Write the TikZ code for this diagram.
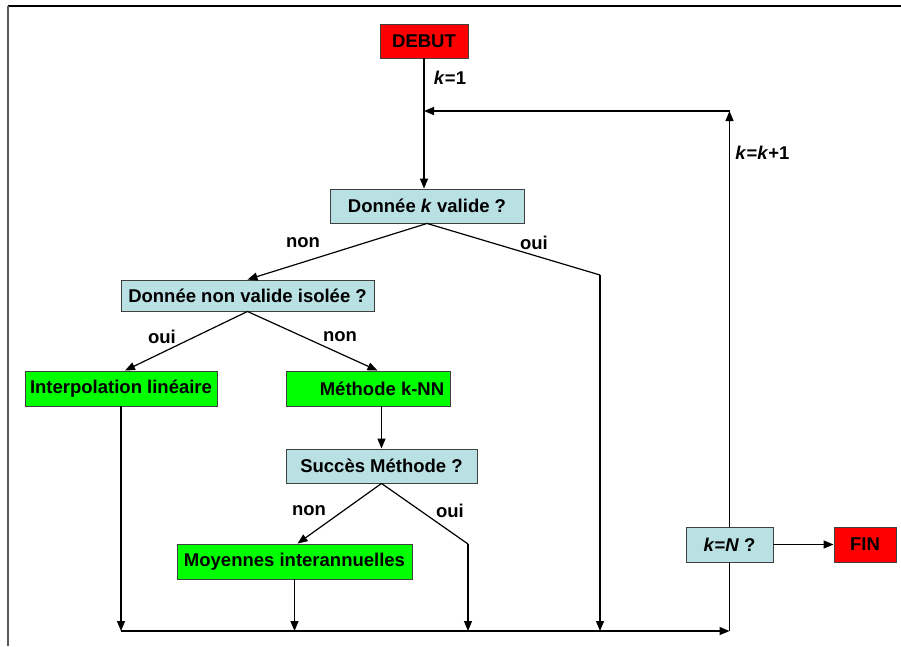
\documentclass[tikz,border=0pt]{standalone}
\usepackage{fontspec}
\setmainfont{Liberation Sans}
\usepackage{tikz}
\usetikzlibrary{arrows.meta}
\usepackage{xcolor}
\definecolor{boxred}{RGB}{255,0,0}
\definecolor{boxgreen}{RGB}{0,255,0}
\definecolor{boxblue}{RGB}{185,224,226}

\tikzset{
  box/.style={draw=black!75, line width=0.9pt, rectangle, inner sep=0pt,
    font=\fontsize{18.5}{21}\selectfont\bfseries},
  startbox/.style={box, fill=boxred},
  testbox/.style={box, fill=boxblue},
  actbox/.style={box, fill=boxgreen},
  lbl/.style={font=\fontsize{18.5}{21}\selectfont\bfseries}
}

\begin{document}
\begin{tikzpicture}[x=1pt,y=-1pt,line width=1.2pt,>={Triangle[length=10pt,width=8pt]}]
  \useasboundingbox (0,0) rectangle (901,646);
  % Frame
  \draw[black, line width=1.4pt] (8,6) -- (901,6);
  \draw[black!65, line width=1.6pt] (8,6) -- (8,646);
  % Boxes
  \node[startbox, minimum width=88pt, minimum height=34pt] (debut) at (424,41) {DEBUT};
  \node[testbox, minimum width=194pt, minimum height=34pt] (valide) at (427,206) {Donnée \textit{k} valide ?};
  \node[testbox, minimum width=253pt, minimum height=31pt] (isolee) at (247.5,295.5) {Donnée non valide isolée ?};
  \node[actbox, minimum width=192pt, minimum height=35pt] (interp) at (121,388.5) {Interpolation linéaire};
  \node[actbox, minimum width=164pt, minimum height=35pt] (knn) at (368,388.5) {\hspace*{28pt}Méthode k-NN};
  \node[testbox, minimum width=191pt, minimum height=34pt] (succes) at (381.5,466) {Succès Méthode ?};
  \node[actbox, minimum width=235pt, minimum height=35pt] (moy) at (294.5,561.5) {Moyennes interannuelles};
  \node[testbox, minimum width=87pt, minimum height=35pt] (kN) at (729.5,544.5) {\textit{k}=\textit{N} ?};
  \node[startbox, minimum width=62pt, minimum height=35pt] (fin) at (865,544.5) {FIN};
  % Helper points
  \coordinate (loop) at (kN.north |- 0,111);
  \coordinate (vcorner) at (600,275);
  \coordinate (scorner) at (468,544);
  \coordinate (base) at (interp.south |- 0,631);
  \coordinate (baseend) at (kN.south |- 0,631);
  % Connectors
  \draw[->] (debut.south) -- (debut.south |- valide.north) node[lbl, pos=0.15, right=6pt] {\textit{k}=1};
  \draw[->] (kN.north) -- (loop) node[lbl, pos=0.9, right=2pt] {\textit{k}=\textit{k}+1};
  \draw[->] (loop) -- (loop -| debut.south);
  \draw[->] (valide.south) -- (isolee.north);
  \node[lbl] (lnon1) at (303,243) {non};
  \draw (valide.south) -- (vcorner);
  \draw[->] (vcorner) -- (vcorner |- base);
  \node[lbl] (loui1) at (534,243) {oui};
  \draw[->] (isolee.south) -- ([xshift=4pt]interp.north);
  \node[lbl] (loui2) at (162,337) {oui};
  \draw[->] (isolee.south) -- ([xshift=-4pt]succes.north |- knn.north);
  \node[lbl] (lnon2) at (340,337) {non};
  \draw[->] (succes.north |- knn.south) -- (succes.north);
  \draw[->] (succes.south) -- ([xshift=3pt]moy.north);
  \node[lbl] (lnon3) at (309,511) {non};
  \draw (succes.south) -- (scorner);
  \draw[->] (scorner) -- (scorner |- base);
  \node[lbl] (loui3) at (450,511) {oui};
  \draw[->] (interp.south) -- (base);
  \draw[->] (moy.south) -- (moy.south |- base);
  \draw[->] (base) -- (baseend);
  \draw (baseend) -- (kN.south);
  \draw[->] (kN.east) -- (fin.west);
\end{tikzpicture}
\end{document}
